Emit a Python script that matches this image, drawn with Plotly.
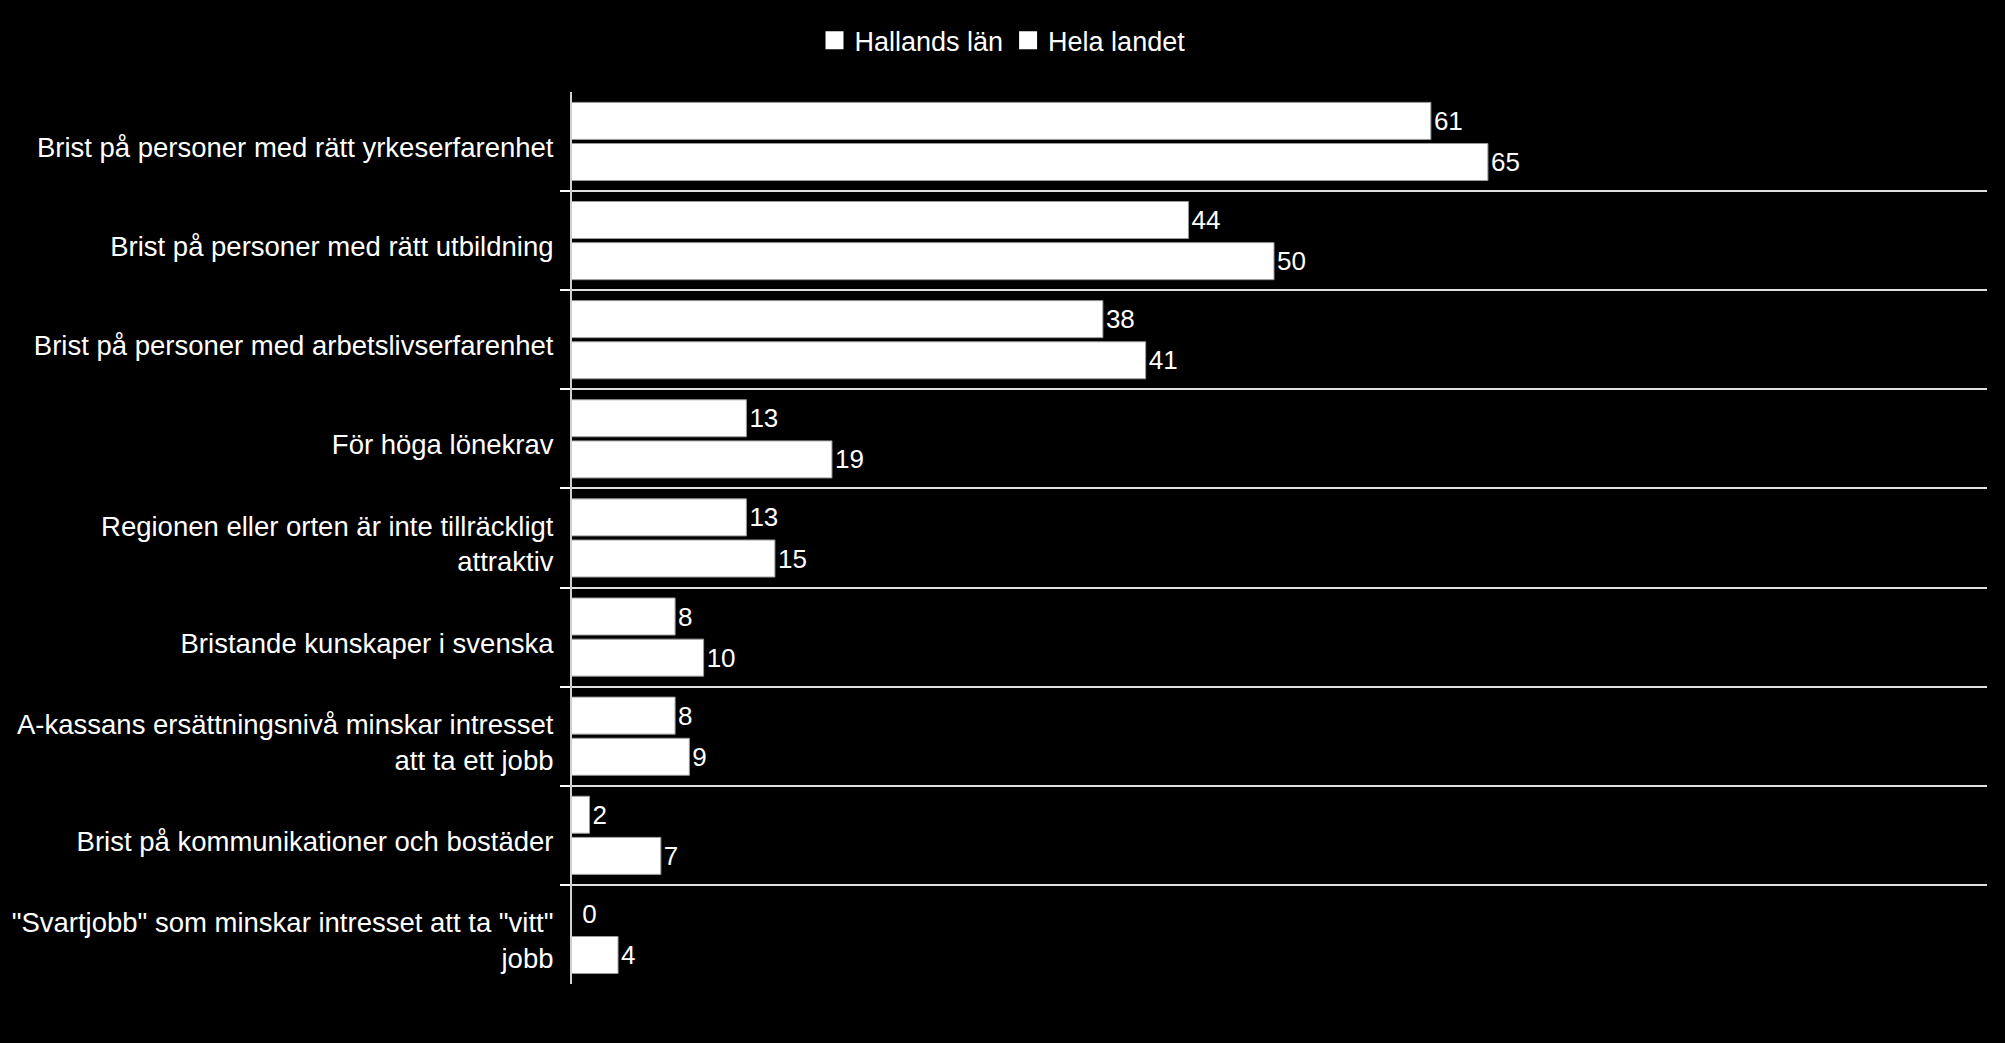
import plotly.graph_objects as go

categories = [
    "Brist på personer med rätt yrkeserfarenhet",
    "Brist på personer med rätt utbildning",
    "Brist på personer med arbetslivserfarenhet",
    "För höga lönekrav",
    "Regionen eller orten är inte tillräckligt<br>attraktiv",
    "Bristande kunskaper i svenska",
    "A-kassans ersättningsnivå minskar intresset<br>att ta ett jobb",
    "Brist på kommunikationer och bostäder",
    "\"Svartjobb\" som minskar intresset att ta \"vitt\"<br>jobb",
]
hallands = [61, 44, 38, 13, 13, 8, 8, 2, 0]
hela_landet = [65, 50, 41, 19, 15, 10, 9, 7, 4]
series_names = ["Hallands län", "Hela landet"]

FONT = "Liberation Sans, Arial, sans-serif"


def label(v):
    # zero-length bars: nudge the label past the value-axis line
    return ("\u2002\u2009" if v == 0 else "") + str(v)


fig = go.Figure()
for name, vals in zip(series_names, [hallands, hela_landet]):
    fig.add_trace(go.Bar(
        y=categories, x=vals, name=name, orientation="h",
        marker=dict(color="white", line=dict(color="#9a9a9a", width=1)),
        text=[label(v) for v in vals], textposition="outside",
        textfont=dict(color="white", size=26, family=FONT),
        cliponaxis=True, constraintext="none", showlegend=False,
    ))

# legend entries with larger markers
for name in series_names:
    fig.add_trace(go.Scatter(
        x=[None], y=[None], mode="markers", name=name,
        marker=dict(symbol="square", size=16, color="white",
                    line=dict(color="white", width=2)),
        showlegend=True,
    ))

fig.update_layout(
    width=2005, height=1043,
    paper_bgcolor="black", plot_bgcolor="black",
    font=dict(family=FONT, color="white", size=27),
    barmode="group", bargap=0.17, bargroupgap=0.1,
    margin=dict(l=572, r=18, t=92, b=59),
    showlegend=True,
    legend=dict(
        orientation="h", xref="container", yref="container",
        x=0.5, xanchor="center", y=0.961, yanchor="middle",
        font=dict(size=27, color="white", family=FONT),
        bgcolor="rgba(0,0,0,0)",
    ),
    xaxis=dict(
        range=[0.77, 100], showgrid=False, zeroline=False,
        showticklabels=False, ticks="", showline=False,
    ),
    yaxis=dict(
        type="category", range=[8.5, -0.499],
        tickson="boundaries", ticks="outside", ticklen=10, tickwidth=2,
        tickcolor="white",
        showgrid=True, gridcolor="#e0e0e0", gridwidth=2,
        showline=True, linecolor="#d0d0d0", linewidth=2,
        tickfont=dict(size=27.5, color="white", family=FONT),
        ticklabelstandoff=11, ticklabelshift=-6,
    ),
)

fig.write_html("out.html")
